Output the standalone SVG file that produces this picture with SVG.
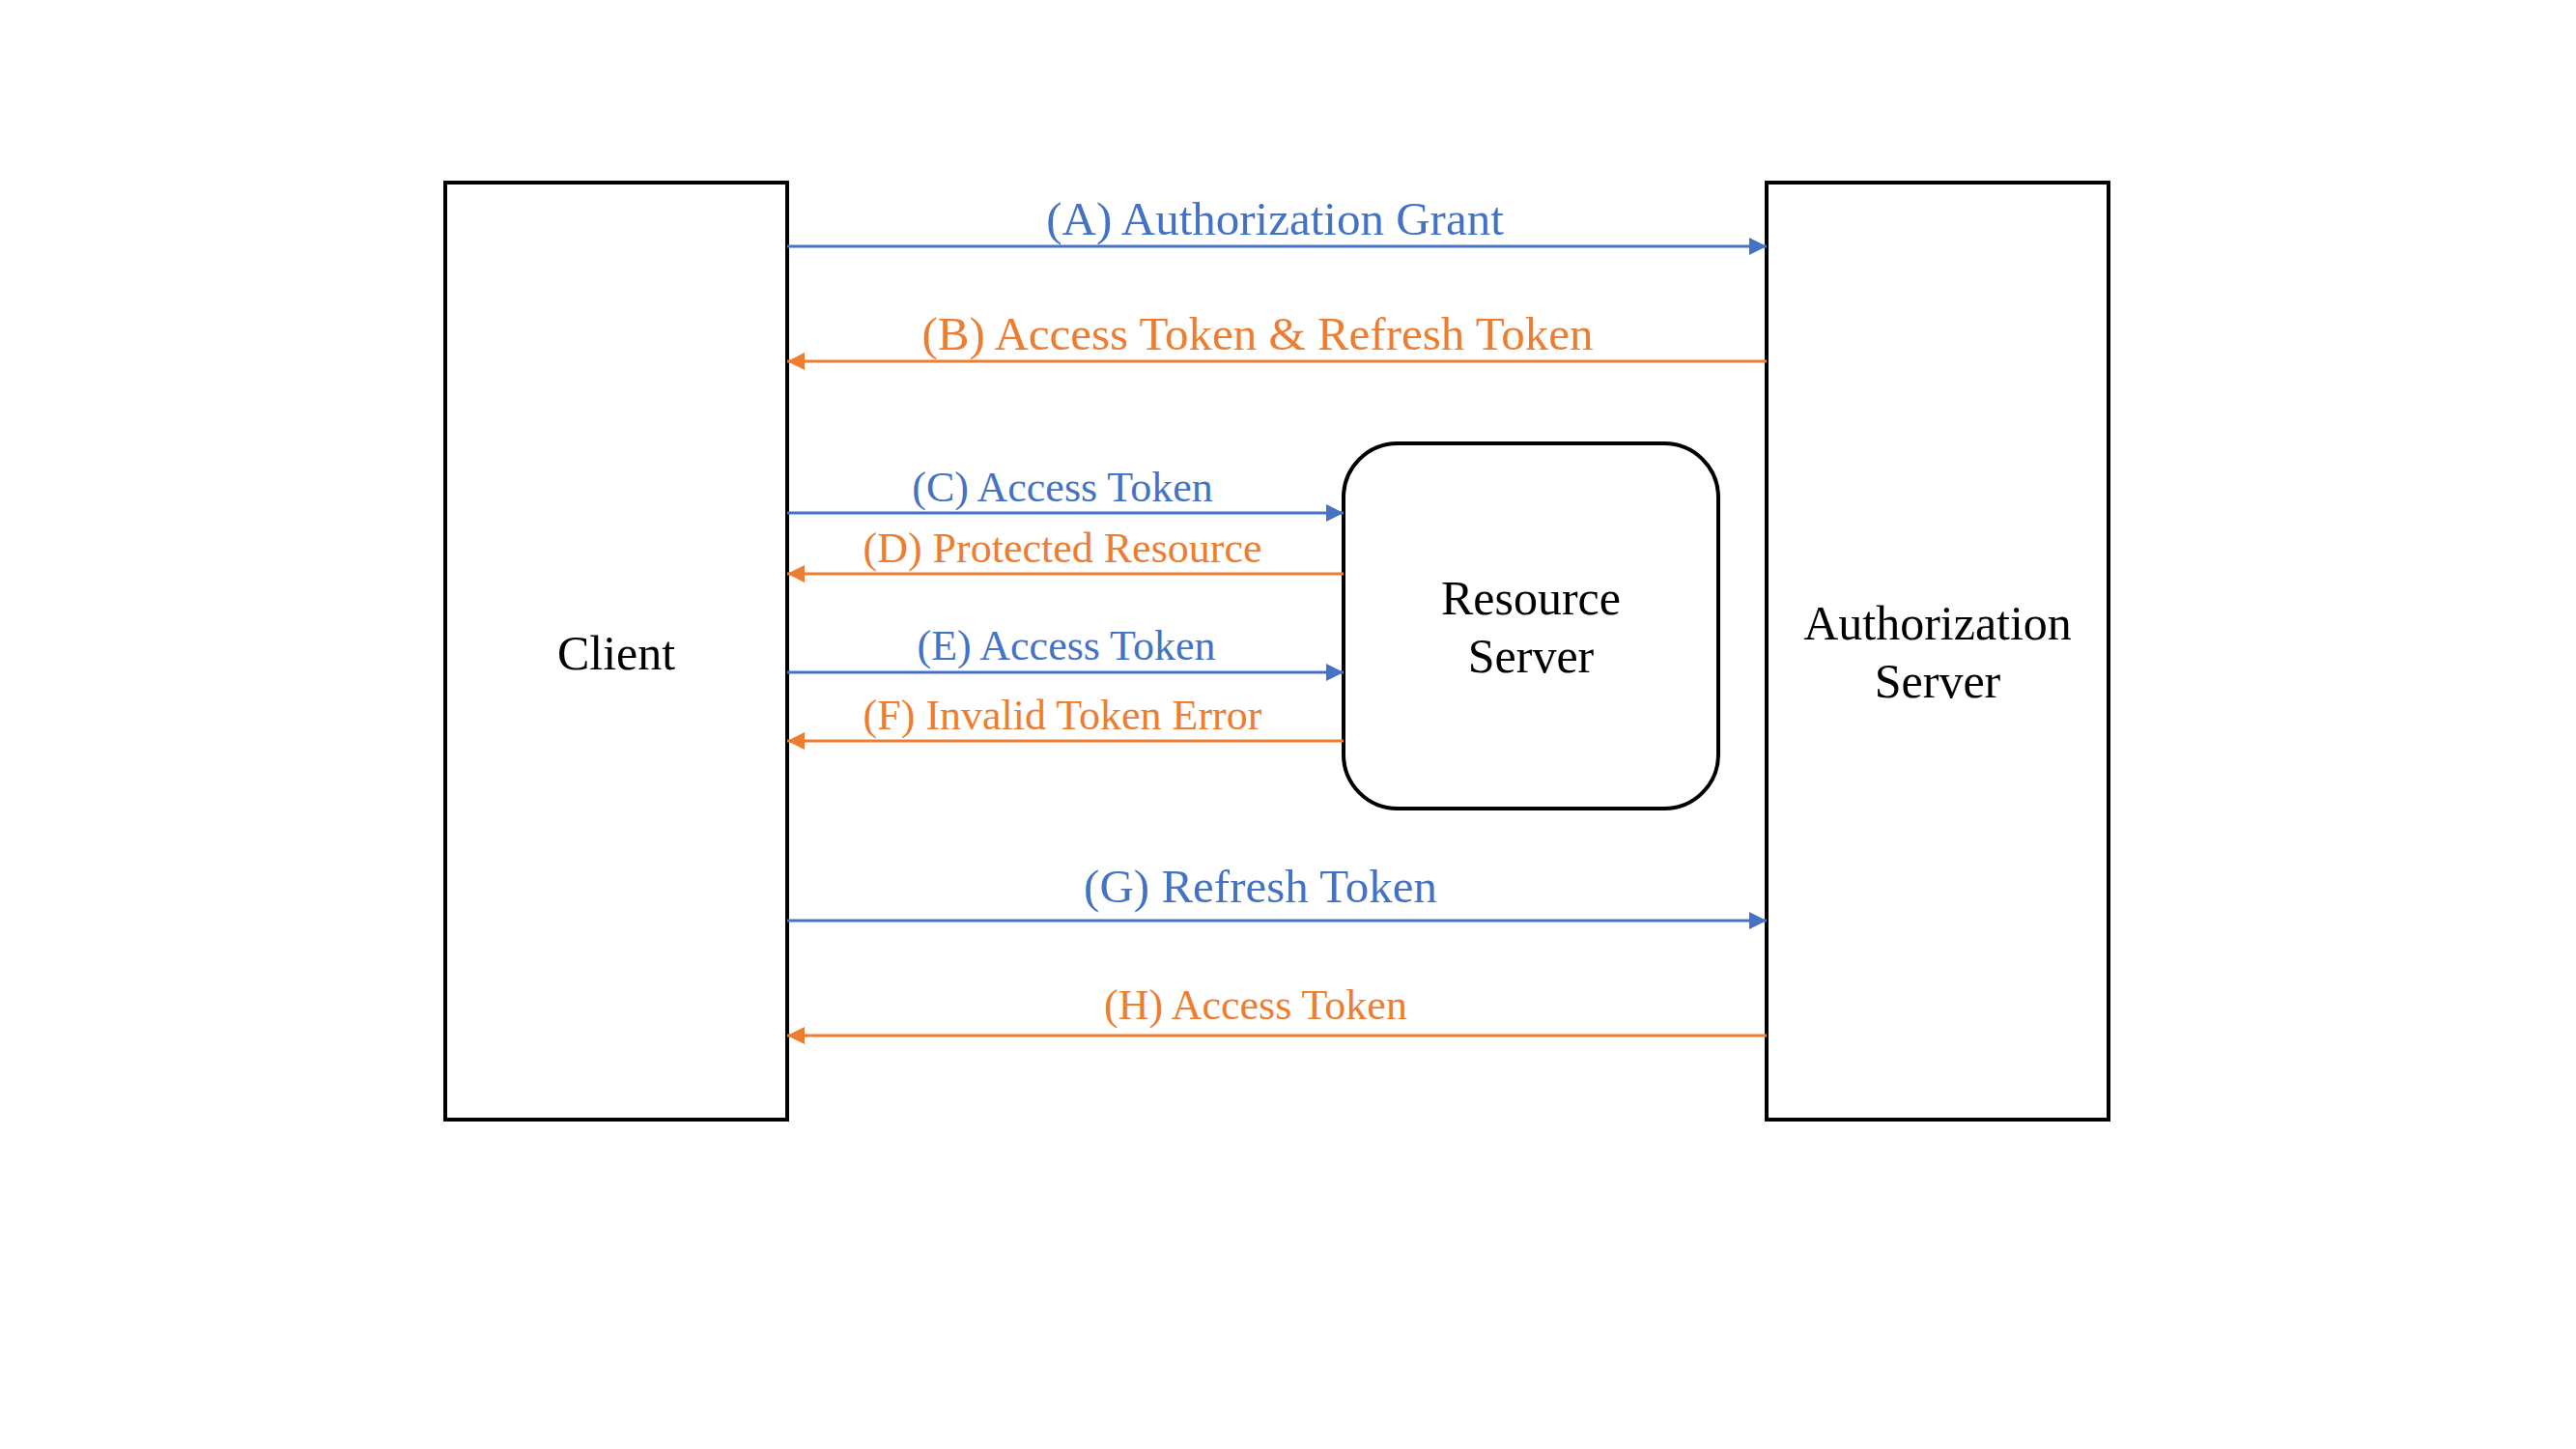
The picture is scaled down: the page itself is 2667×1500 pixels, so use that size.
<svg xmlns="http://www.w3.org/2000/svg" width="2667" height="1500" viewBox="0 0 2667 1500">
<style>
.box{fill:#fff;stroke:#000;stroke-width:4}
.nt{font-family:"Liberation Serif","Times New Roman",serif;font-size:50px;fill:#000;text-anchor:middle}
.lb{font-family:"Liberation Serif","Times New Roman",serif;text-anchor:middle}
.big{font-size:49px}
.sm{font-size:44px}
.blue{fill:#4472C4}
.orange{fill:#ED7D31}
.cb{stroke:#4472C4;stroke-width:3;fill:none}
.co{stroke:#ED7D31;stroke-width:3;fill:none}
</style>
<defs>
<marker id="ab" markerUnits="userSpaceOnUse" markerWidth="18" markerHeight="18" refX="18" refY="9" orient="auto"><path d="M0,0 L18,9 L0,18 z" fill="#4472C4"/></marker>
<marker id="ao" markerUnits="userSpaceOnUse" markerWidth="18" markerHeight="18" refX="18" refY="9" orient="auto"><path d="M0,0 L18,9 L0,18 z" fill="#ED7D31"/></marker>
</defs>
<rect width="2667" height="1500" fill="#fff"/>
<g id="client">
<rect class="box" x="461" y="189" width="354" height="970"/>
<text class="nt" x="638" y="693">Client</text>
</g>
<g id="authorization-server">
<rect class="box" x="1829" y="189" width="354" height="970"/>
<text class="nt" x="2006" y="662">Authorization</text>
<text class="nt" x="2006" y="722">Server</text>
</g>
<g id="resource-server">
<rect class="box" x="1391" y="459" width="388" height="378" rx="56" ry="56"/>
<text class="nt" x="1585" y="636">Resource</text>
<text class="nt" x="1585" y="696">Server</text>
</g>
<g id="connectors">
<line class="cb" x1="815" y1="255" x2="1829" y2="255" marker-end="url(#ab)"/>
<line class="co" x1="1829" y1="374" x2="815" y2="374" marker-end="url(#ao)"/>
<line class="cb" x1="815" y1="531" x2="1391" y2="531" marker-end="url(#ab)"/>
<line class="co" x1="1391" y1="594" x2="815" y2="594" marker-end="url(#ao)"/>
<line class="cb" x1="815" y1="696" x2="1391" y2="696" marker-end="url(#ab)"/>
<line class="co" x1="1391" y1="767" x2="815" y2="767" marker-end="url(#ao)"/>
<line class="cb" x1="815" y1="953" x2="1829" y2="953" marker-end="url(#ab)"/>
<line class="co" x1="1829" y1="1072" x2="815" y2="1072" marker-end="url(#ao)"/>
<text class="lb big blue" x="1320" y="243">(A) Authorization Grant</text>
<text class="lb big orange" x="1302" y="362">(B) Access Token &amp; Refresh Token</text>
<text class="lb sm blue" x="1100" y="519">(C) Access Token</text>
<text class="lb sm orange" x="1100" y="582">(D) Protected Resource</text>
<text class="lb sm blue" x="1104" y="683">(E) Access Token</text>
<text class="lb sm orange" x="1100" y="755">(F) Invalid Token Error</text>
<text class="lb big blue" x="1305" y="934">(G) Refresh Token</text>
<text class="lb sm orange" x="1300" y="1055">(H) Access Token</text>
</g>
</svg>
